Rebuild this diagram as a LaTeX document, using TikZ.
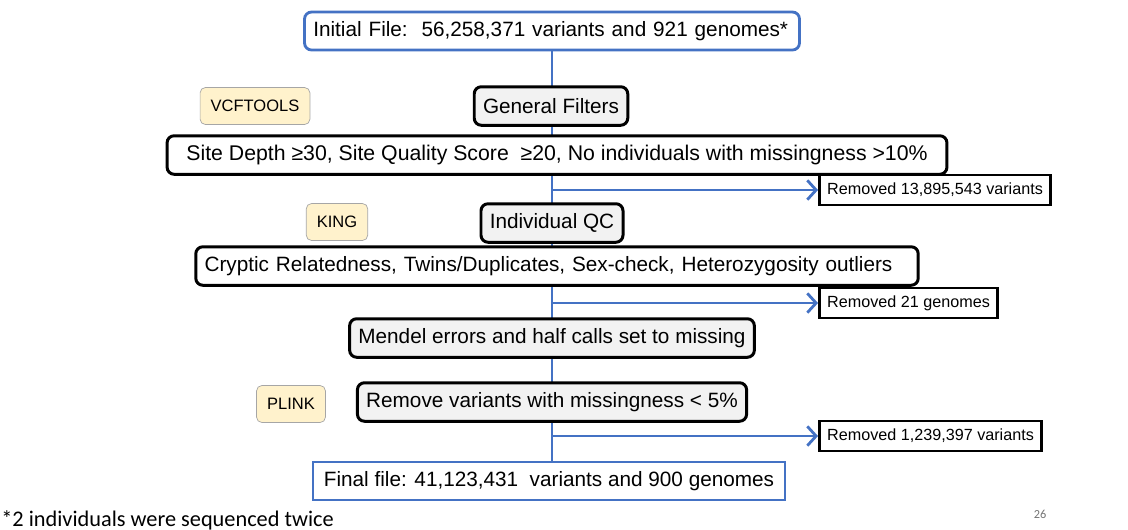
\documentclass[tikz,border=0pt]{standalone}
\usepackage{fontspec}
\setmainfont{Liberation Sans}
\newfontfamily\notefont{Carlito}
\usetikzlibrary{arrows.meta, positioning}

\definecolor{flowblue}{HTML}{4472C4}
\definecolor{toolfill}{HTML}{FFF2CC}
\definecolor{stepfill}{HTML}{F2F2F2}

\begin{document}
\begin{tikzpicture}[x=0.02cm, y=-0.02cm,
  filebox/.style={draw=flowblue, line width=1.6pt, fill=white, minimum height=0.76cm, inner xsep=5pt, font=\fontsize{11.8}{13}\selectfont},
  stepbox/.style={draw, line width=1.7pt, rounded corners=4pt, fill=stepfill, minimum height=0.77cm, inner xsep=5pt, font=\fontsize{11.8}{13}\selectfont},
  rulebox/.style={stepbox, fill=white},
  toolbox/.style={draw=black!35, fill=toolfill, rounded corners=3pt, minimum height=0.74cm, inner xsep=6pt, font=\fontsize{9.4}{11}\selectfont},
  outbox/.style={draw, line width=1.5pt, fill=white, anchor=west, minimum height=0.6cm, inner xsep=4.5pt, font=\fontsize{9.2}{10}\selectfont},
  flow/.style={draw=flowblue, line width=1.6pt}
]
\useasboundingbox (0,0) rectangle (1128,529);

% main flow
\node[filebox, rounded corners=4pt, text width=9.55cm, align=left] (init) at (552,31) {Initial File:\ \ 56,258,371 variants and 921 genomes*};
\node[filebox, minimum width=9.44cm] (final) at (549,481) {Final file: 41,123,431\ \ variants and 900 genomes};

\draw[flow] (init.south) -- (init.south |- final.north);

\node[stepbox] (gen) at (551,106) {General Filters};
\node[rulebox, minimum width=15.6cm, font=\fontsize{12.1}{13}\selectfont] (site) at (557,155) {Site Depth ≥30, Site Quality Score\ \ ≥20, No individuals with missingness >10\%};
\node[stepbox] (indiv) at (552,223) {Individual QC};
\node[rulebox, text width=14.1cm, align=left] (rel) at (557,266) {Cryptic Relatedness, Twins/Duplicates, Sex-check, Heterozygosity outliers};
\node[stepbox] (mendel) at (552,338) {Mendel errors and half calls set to missing};
\node[stepbox] (miss) at (552,402) {Remove variants with missingness < 5\%};

% tools
\node[toolbox] (vcf) at (255,106) {VCFTOOLS};
\node[toolbox] (king) at (337,222) {KING};
\node[toolbox] (plink) at (291,404) {PLINK};

% removed counts
\node[outbox] (rem1) at (818,190) {Removed 13,895,543 variants};
\node[outbox] (rem2) at (818,303) {Removed 21 genomes};
\node[outbox] (rem3) at (818,436) {Removed 1,239,397 variants};

\draw[flow, -{Straight Barb[length=5pt, width=11pt]}]
  (init.south |- rem1.west) edge (rem1.west)
  (init.south |- rem2.west) edge (rem2.west)
  (init.south |- rem3.west) -- (rem3.west);

\node[anchor=base west, inner xsep=0pt, font=\notefont\fontsize{12.7}{14}\selectfont] (note) at (1,526) {*2 individuals were sequenced twice};
\node[font=\notefont\fontsize{7}{8}\selectfont, text=black!55] (page) at (1040,514) {26};

\end{tikzpicture}
\end{document}
